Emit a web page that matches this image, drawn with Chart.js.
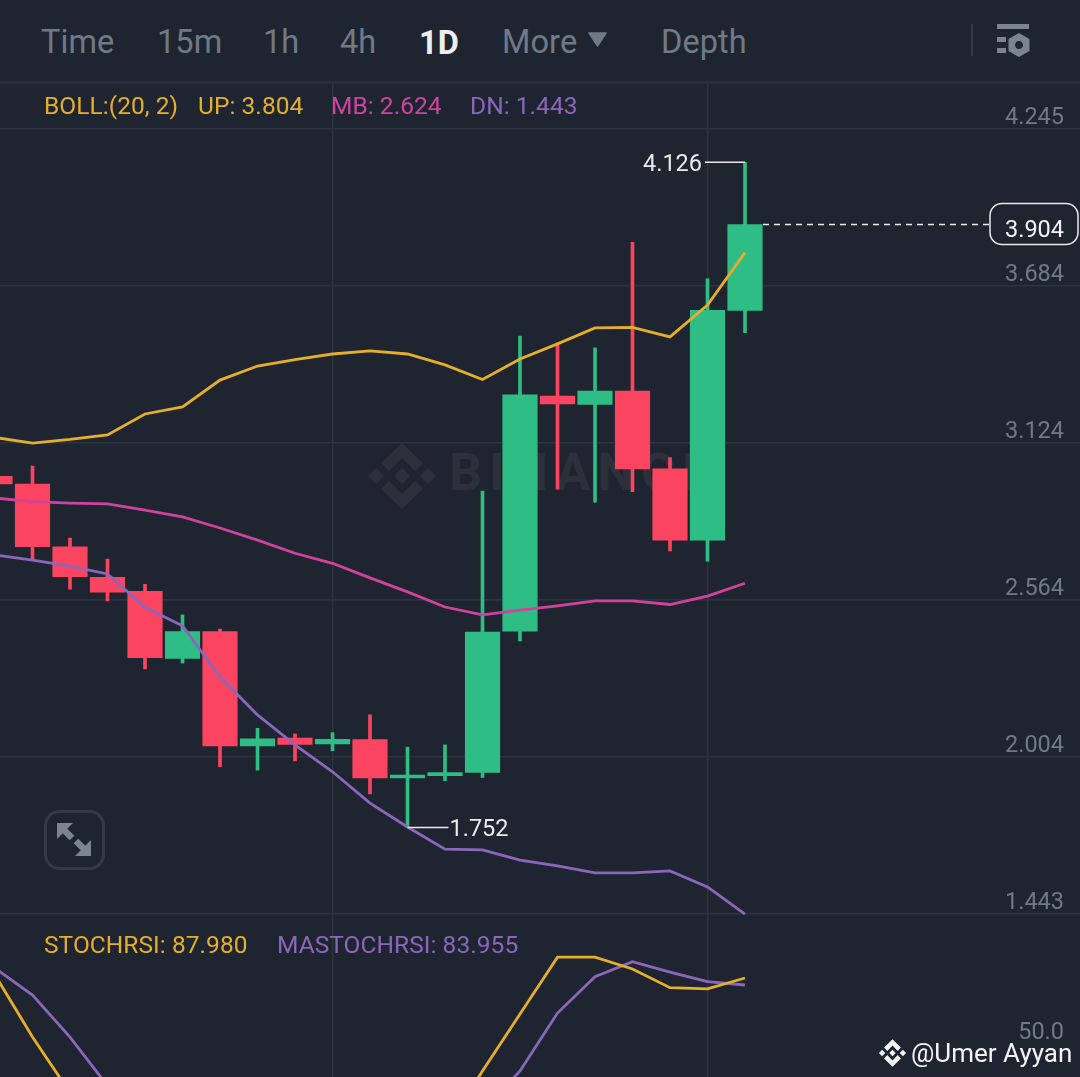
<!DOCTYPE html>
<html>
<head>
<meta charset="utf-8">
<title>1D chart</title>
<script src="https://cdn.jsdelivr.net/npm/chart.js@4/dist/chart.umd.min.js"></script>
<style>
  html, body { margin: 0; padding: 0; background: #1f2530; overflow: hidden; }
  #page { position: relative; width: 1080px; height: 1077px; font-family: Roboto, sans-serif; }
  #page span { position: absolute; white-space: nowrap; transform: translateY(-50%); }
  canvas { position: absolute; left: 0; }
  #mainChart { top: 83px; }
  #stochChart { top: 914px; }
  svg { position: absolute; left: 0; top: 0; pointer-events: none; }
  .tab { font-size: 32.5px; color: #6f7a88; letter-spacing: 0.1px; }
  .tab.on { color: #eceef0; font-weight: 700; }
  .leg { font-size: 24.5px; letter-spacing: 0.05px; }
  #rule { position: absolute; left: 0; top: 81px; width: 1080px; height: 3px; background: #2a303b; }
</style>
</head>
<body>
<div id="page">
  <canvas id="mainChart" width="1080" height="833"></canvas>
  <canvas id="stochChart" width="1080" height="163"></canvas>
  <div id="rule"></div>

  <span class="tab" style="left:41px;top:42px">Time</span>
  <span class="tab" style="left:157px;top:42px">15m</span>
  <span class="tab" style="left:263px;top:42px">1h</span>
  <span class="tab" style="left:340px;top:42px">4h</span>
  <span class="tab on" style="left:419px;top:43px">1D</span>
  <span class="tab" style="left:502px;top:42px">More</span>
  <span class="tab" style="left:661px;top:42px">Depth</span>

  <span class="leg" style="left:44px;top:105px;color:#e5ae2b">BOLL:(20, 2)</span>
  <span class="leg" style="left:198px;top:105px;color:#e5ae2b">UP: 3.804</span>
  <span class="leg" style="left:331px;top:105px;color:#d0429e">MB: 2.624</span>
  <span class="leg" style="left:470px;top:105px;color:#8a66bd">DN: 1.443</span>
  <span class="leg" style="left:44px;top:944px;color:#e5ae2b">STOCHRSI: 87.980</span>
  <span class="leg" style="left:277px;top:944px;color:#8a66bd">MASTOCHRSI: 83.955</span>
  <span style="left:911px;top:1053px;font-size:26px;color:#f2f3f5">@Umer Ayyan</span>

  <svg width="1080" height="1077">
    <polygon points="589,33 606,33 597.5,46" fill="#6f7a88" stroke="#6f7a88" stroke-width="1.5" stroke-linejoin="round"/>
    <rect x="971" y="24" width="2" height="32" fill="#333945"/>
    <g fill="#7b8592">
      <rect x="997" y="24" width="32" height="5"/>
      <rect x="997" y="37" width="9" height="5"/>
      <rect x="997" y="48" width="9" height="5"/>
      <path fill-rule="evenodd" d="M1019 33l10.5 6v12l-10.5 6-10.5-6v-12z M1019 41a4 4 0 1 0 0.01 0z"/>
    </g>
    <rect x="45.5" y="811.5" width="58" height="57" rx="14" fill="none" stroke="#333a46" stroke-width="3"/>
    <g fill="#7b8592" stroke="none">
      <polygon points="57,823 73,823 57,839"/>
      <polygon points="91,856 75,856 91,840"/>
    </g>
    <g stroke="#7b8592" stroke-width="6.5">
      <line x1="62" y1="828" x2="72" y2="838"/>
      <line x1="86" y1="851" x2="76" y2="841"/>
    </g>
    <g fill="#f2f3f5" transform="translate(892.5 1053) scale(.4 .42)">
      <polygon points="0,-33 21,-13 13,-5 0,-18 -13,-5 -21,-13"/>
      <polygon points="0,33 21,13 13,5 0,18 -13,5 -21,13"/>
      <polygon points="0,-8 8,0 0,8 -8,0"/>
      <polygon points="-26,-8 -18,0 -26,8 -34,0"/>
      <polygon points="26,-8 34,0 26,8 18,0"/>
    </g>
  </svg>
</div>

<script>
const days = [0,1,2,3,4,5,6,7,8,9,10,11,12,13,14,15,16,17,18,19,20];

const opens  = [3.005,2.978,2.754,2.645,2.595,2.356,2.451,2.043,2.071,2.050,2.066,1.929,1.937,1.949,2.453,3.292,3.262,3.310,3.032,2.778,3.598];
const closes = [2.978,2.754,2.647,2.592,2.358,2.451,2.043,2.069,2.049,2.067,1.929,1.939,1.948,2.450,3.296,3.264,3.310,3.032,2.778,3.598,3.904];
const highs  = [3.020,3.042,2.785,2.710,2.620,2.511,2.460,2.106,2.086,2.091,2.154,2.039,2.047,2.953,3.506,3.481,3.464,3.841,3.072,3.710,4.126];
const lows   = [2.970,2.710,2.603,2.561,2.318,2.339,1.969,1.957,1.990,2.026,1.872,1.752,1.919,1.931,2.418,2.960,2.913,2.951,2.739,2.703,3.518];

const bollUp = [3.144,3.124,3.137,3.153,3.228,3.253,3.349,3.399,3.422,3.442,3.453,3.442,3.403,3.351,3.424,3.478,3.535,3.537,3.503,3.617,3.804];
const bollMb = [2.928,2.915,2.910,2.907,2.885,2.861,2.821,2.778,2.731,2.695,2.643,2.593,2.539,2.511,2.528,2.543,2.561,2.561,2.548,2.578,2.624];
const bollDn = [2.725,2.706,2.685,2.657,2.538,2.472,2.290,2.154,2.047,1.951,1.839,1.754,1.675,1.672,1.636,1.615,1.590,1.590,1.597,1.540,1.443];

const stochRsi = [89.7,54.0,22.0,2.0,0,0,0,0,0,0,0,0,0,34.5,67.3,100,100,93.2,82.4,81.7,87.98];
const maStoch  = [93.7,78.2,54.0,26.0,8.0,1.0,0,0,0,0,0,0,0,11.5,34.5,67.8,88.7,97.4,91.4,85.9,83.955];

const priceTicks = [1.443,2.004,2.564,3.124,3.684,4.245];
const stochTicks = [50];
const gridDays = [9,19];

const GREEN = "#2ebd85";
const RED = "#fb4560";
const GRID = "#2d333f";
const TICK = "#6f7a88";
const PRICE_FONT = "23.5px Roboto";

// x scale: one candle every 37.5px, first candle is just off the left edge
const xMin = 5 / 37.5;
const xMax = 1085 / 37.5;

const xy = arr => arr.map((v, i) => ({ x: days[i], y: v }));
const candleColors = opens.map((o, i) => closes[i] >= o ? GREEN : RED);

function lineSet(arr, color) {
  return { type: "line", data: xy(arr), borderColor: color, borderWidth: 2.8, pointRadius: 0, tension: 0, order: 1 };
}

function xAxis() {
  return {
    type: "linear", min: xMin, max: xMax, offset: false,
    afterBuildTicks: s => { s.ticks = gridDays.map(v => ({ value: v })); },
    afterFit: s => { s.height = 0; s.paddingLeft = 0; s.paddingRight = 0; },
    ticks: { display: false },
    border: { display: false },
    grid: { color: GRID, lineWidth: 1.5, drawTicks: false, offset: false }
  };
}

function yAxis(min, max, values, gridColor) {
  return {
    position: "right", min: min, max: max,
    afterBuildTicks: s => { s.ticks = values.map(v => ({ value: v })); },
    // labels sit inside the plot, so the axis must not take any room
    afterFit: s => { s.width = 0; s.paddingTop = 0; s.paddingBottom = 0; },
    ticks: {
      mirror: true, padding: -16, labelOffset: -11, color: TICK,
      font: { family: "Roboto", size: 23.5 },
      callback: v => v.toFixed(values[0] > 10 ? 1 : 3)
    },
    border: { display: false },
    grid: { color: gridColor, lineWidth: 1.5, drawTicks: false }
  };
}

// faint logo and name behind the candles
const watermark = {
  id: "watermark",
  beforeDatasetsDraw(chart) {
    const c = chart.ctx;
    const poly = pts => {
      c.beginPath();
      pts.forEach((p, i) => i ? c.lineTo(p[0], p[1]) : c.moveTo(p[0], p[1]));
      c.closePath();
      c.fill();
    };
    c.save();
    c.translate(402, 476 - 83);
    c.fillStyle = "#2b303b";
    poly([[0,-33],[21,-13],[13,-5],[0,-18],[-13,-5],[-21,-13]]);
    poly([[0,33],[21,13],[13,5],[0,18],[-13,5],[-21,13]]);
    poly([[0,-8],[8,0],[0,8],[-8,0]]);
    poly([[-26,-8],[-18,0],[-26,8],[-34,0]]);
    poly([[26,-8],[34,0],[26,8],[18,0]]);
    c.font = "bold 52px Roboto";
    c.letterSpacing = "7px";
    c.textBaseline = "middle";
    c.fillText("BINANCE", 47, 1);
    c.restore();
  }
};

// high / low callouts and the last price tag
const priceMarks = {
  id: "priceMarks",
  afterDatasetsDraw(chart) {
    const c = chart.ctx;
    const x = chart.scales.x, y = chart.scales.y;
    const last = days.length - 1;
    const lowIdx = lows.indexOf(Math.min(...lows));
    const highIdx = highs.indexOf(Math.max(...highs));
    c.save();
    c.strokeStyle = "#e8eaed";
    c.fillStyle = "#e8eaed";
    c.lineWidth = 1.5;
    c.font = PRICE_FONT;
    c.textBaseline = "middle";

    const hx = x.getPixelForValue(days[highIdx]), hy = y.getPixelForValue(highs[highIdx]);
    c.beginPath(); c.moveTo(hx - 40, hy); c.lineTo(hx, hy); c.stroke();
    c.textAlign = "right";
    c.fillText(highs[highIdx].toFixed(3), hx - 43, hy + 3);

    const lx = x.getPixelForValue(days[lowIdx]), ly = y.getPixelForValue(lows[lowIdx]);
    c.beginPath(); c.moveTo(lx, ly); c.lineTo(lx + 41, ly); c.stroke();
    c.textAlign = "left";
    c.fillText(lows[lowIdx].toFixed(3), lx + 42, ly + 3);

    const px = x.getPixelForValue(days[last]) + 18, py = y.getPixelForValue(closes[last]);
    c.setLineDash([6, 5]);
    c.beginPath(); c.moveTo(px, py); c.lineTo(989, py); c.stroke();
    c.setLineDash([]);
    c.beginPath(); c.roundRect(990, py - 21, 88, 41, 12); c.stroke();
    c.textAlign = "right";
    c.fillStyle = "#f2f3f5";
    c.fillText(closes[last].toFixed(3), 1064, py + 7);
    c.restore();
  }
};

new Chart(document.getElementById("mainChart"), {
  type: "bar",
  data: {
    datasets: [
      lineSet(bollUp, "#e5ae2b"),
      lineSet(bollMb, "#d0429e"),
      lineSet(bollDn, "#8a66bd"),
      {
        data: days.map((d, i) => ({ x: d, y: [opens[i], closes[i]] })),
        backgroundColor: candleColors, barThickness: 34.5, grouped: false, order: 2
      },
      {
        data: days.map((d, i) => ({ x: d, y: [lows[i], highs[i]] })),
        backgroundColor: candleColors, barThickness: 3, grouped: false, order: 3
      }
    ]
  },
  options: {
    responsive: false,
    animation: false,
    devicePixelRatio: 1,
    layout: { padding: 0 },
    plugins: { legend: { display: false }, tooltip: { enabled: false } },
    scales: {
      x: xAxis(),
      y: yAxis(1.4363, 4.4092, priceTicks, GRID)
    }
  },
  plugins: [watermark, priceMarks]
});

new Chart(document.getElementById("stochChart"), {
  type: "line",
  data: {
    datasets: [
      lineSet(stochRsi, "#e5ae2b"),
      lineSet(maStoch, "#8a66bd")
    ]
  },
  options: {
    responsive: false,
    animation: false,
    devicePixelRatio: 1,
    layout: { padding: 0 },
    plugins: { legend: { display: false }, tooltip: { enabled: false } },
    scales: {
      x: xAxis(),
      y: yAxis(31.05, 124.8, stochTicks, "transparent")
    }
  }
});
</script>
</body>
</html>
